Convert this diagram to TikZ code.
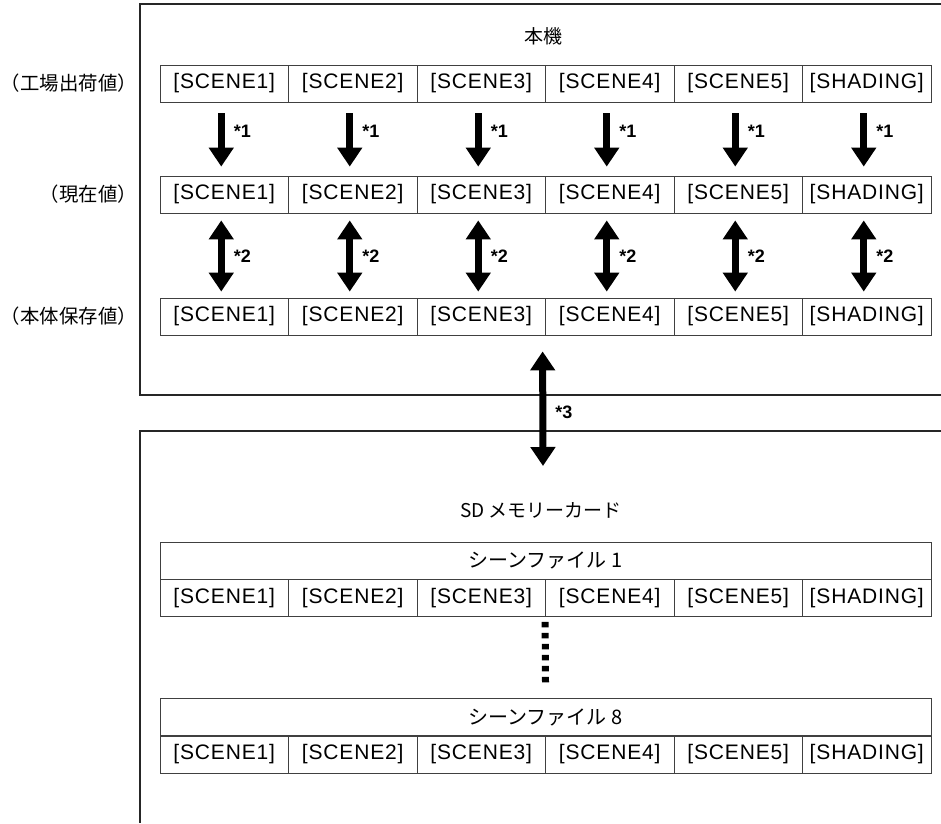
\documentclass[tikz,border=0pt]{standalone}
\usepackage{fontspec}
\setmainfont{Liberation Sans}
\newfontfamily\jpfont{Noto Sans CJK JP}
\newfontfamily\cellfont[LetterSpace=4]{Liberation Sans}
\usetikzlibrary{arrows.meta,positioning,calc}

\begin{document}
\begin{tikzpicture}[x=1pt, y=-1pt,
  cell/.style={
    draw=black!75, line width=0.8pt,
    minimum width=128.5pt, minimum height=37pt, inner sep=0pt,
    font=\cellfont\fontsize{21}{21}\selectfont
  },
  head/.style={cell, minimum width=771pt, font=\jpfont\fontsize{20}{20}\selectfont},
  rowlabel/.style={anchor=east, inner sep=0pt, font=\jpfont\fontsize{19.4}{19.4}\selectfont},
  title/.style={inner sep=0pt, font=\jpfont\fontsize{19}{19}\selectfont},
  frame/.style={line width=1.6pt, draw=black!85},
  onearrow/.style={line width=7pt, -{Triangle[width=24pt,length=19pt]}},
  twoarrow/.style={line width=7pt, {Triangle[width=24pt,length=19pt]}-{Triangle[width=24pt,length=19pt]}},
  note/.style={anchor=west, inner sep=0pt, xshift=9pt, font=\bfseries\fontsize{18}{18}\selectfont},
  dotline/.style={line width=7pt, dash pattern=on 5.5pt off 5.5pt}
]
\useasboundingbox (0,0) rectangle (941,823);

% frames (open on the right)
\draw[frame] (941,4) -- (140,4) -- (140,395) -- (941,395);
\draw[frame] (941,431) -- (140,431) -- (140,823);

\node[title] (unit) at (543,36) {本機};

\node[rowlabel] (lf) at (137,83.5)  {（工場出荷値）};
\node[rowlabel] (lc) at (137,194.5) {（現在値）};
\node[rowlabel] (ls) at (137,316.5) {（本体保存値）};

% scene rows
\foreach \n [count=\i] in {SCENE1,SCENE2,SCENE3,SCENE4,SCENE5,SHADING} {
  \node[cell] (f\i) at ({160+(\i-0.5)*128.5},83.5)  {[\n]};
  \node[cell] (c\i) at ({160+(\i-0.5)*128.5},194.5) {[\n]};
  \node[cell] (s\i) at ({160+(\i-0.5)*128.5},316.5) {[\n]};
  \node[cell] (a\i) at ({160+(\i-0.5)*128.5},598)   {[\n]};
  \node[cell] (b\i) at ({160+(\i-0.5)*128.5},754.5) {[\n]};
}

\foreach \i in {1,...,6} {
  \draw[onearrow] ([xshift=-3pt,yshift=-11pt]f\i.south) -- ([xshift=-3pt,yshift=9pt]c\i.north)
    node[note, pos=0.33] {*1};
  \draw[twoarrow] ([xshift=-3pt,yshift=-7pt]c\i.south) -- ([xshift=-3pt,yshift=6pt]s\i.north)
    node[note, midway] {*2};
}

% SD card
\coordinate (cardtop) at (543,466);
\draw[twoarrow] ([xshift=-2.5pt,yshift=-16pt]s4.south west) -- (cardtop)
  node[note, pos=0.53] {*3};

\node[title] (card) at (541,510) {SD メモリーカード};

\node[head] (h1) at (545.5,560.5) {シーンファイル 1};
\node[head] (h8) at (545.5,717)   {シーンファイル 8};

\draw[dotline] ([yshift=-5pt]a4.south west) -- ([yshift=15.5pt]h8.north);

\end{tikzpicture}
\end{document}
